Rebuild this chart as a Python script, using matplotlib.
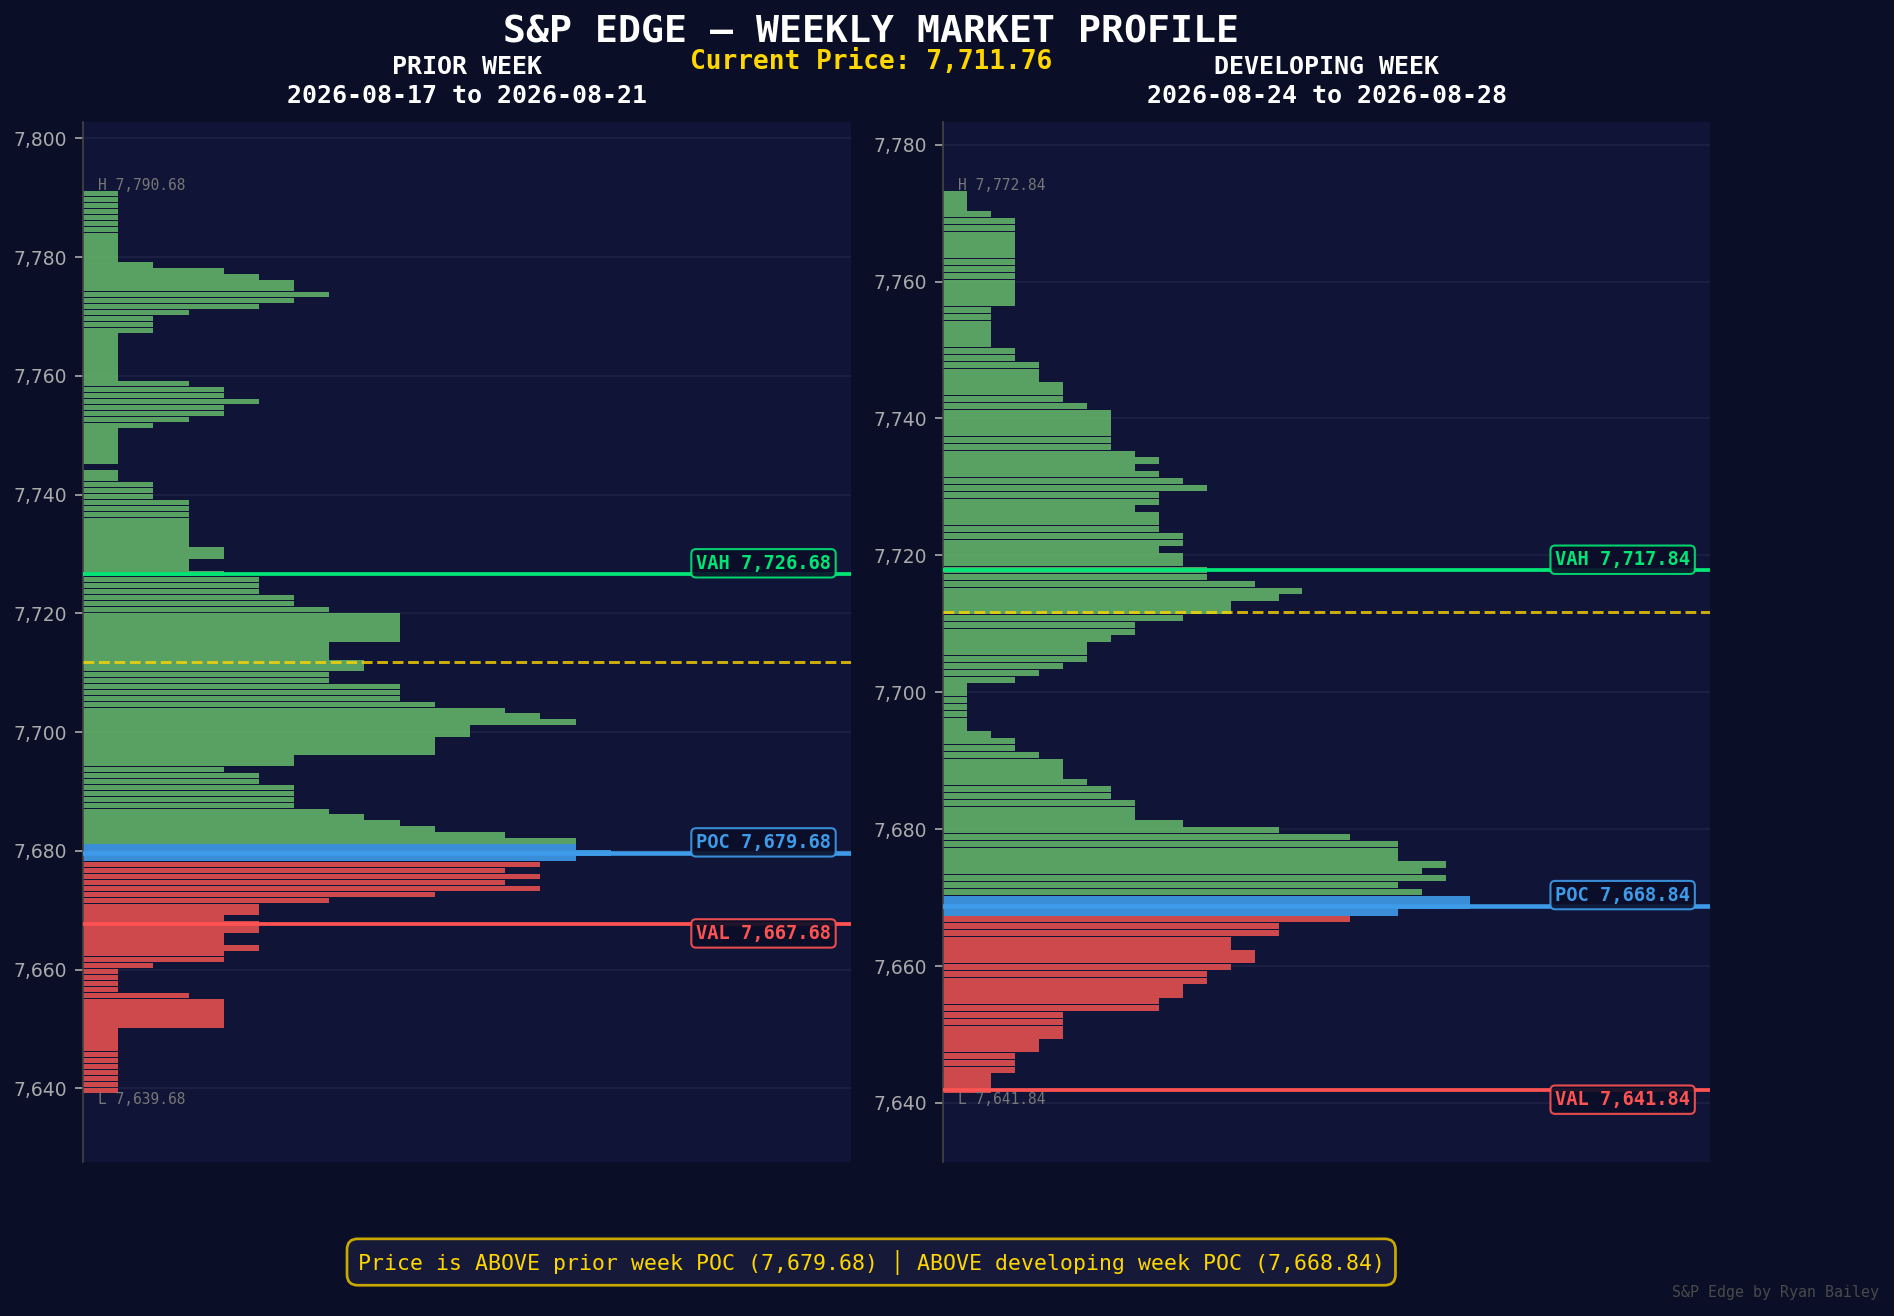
import matplotlib.pyplot as plt
import numpy as np
from matplotlib.ticker import MultipleLocator, FuncFormatter
import matplotlib.transforms as mtransforms

# --- data ---
current_price = 7711.76

prior_dates = "2026-08-17 to 2026-08-21"
prior_high = 7790.68
prior_low = 7639.68
prior_poc = 7679.68
prior_vah = 7726.68
prior_val = 7667.68
# TPO counts per 1-pt level, from high down to low
prior_counts = [
    1, 1, 1, 1, 1, 1, 1, 1, 1, 1, 1, 1,
    2, 4, 5, 6, 6, 7, 6, 5, 3, 2, 2, 2,
    1, 1, 1, 1, 1, 1, 1, 1,
    3, 4, 4, 5, 4, 4, 3, 2,
    1, 1, 1, 1, 1, 1,
    0,
    1, 1, 2, 2, 2,
    3, 3, 3, 3, 3, 3, 3, 3,
    4, 4, 3, 3, 4, 5, 5, 5, 6, 6,
    7,
    9, 9, 9, 9, 9,
    7, 7, 7, 8, 8, 7, 7, 9, 9, 9,
    10, 12, 13, 14, 11, 11, 10, 10, 10, 6, 6,
    4, 5, 5, 6, 6, 6, 6,
    7, 8, 9, 10, 12, 14, 14, 15, 14,
    13, 12, 13, 12, 13, 10, 7, 5, 5,
    4, 5, 5, 4, 4, 5, 4, 4, 2,
    1, 1, 1, 1,
    3, 4, 4, 4, 4, 4,
    1, 1, 1, 1, 1, 1, 1, 1, 1, 1, 1,
]

dev_dates = "2026-08-24 to 2026-08-28"
dev_high = 7772.84
dev_low = 7641.84
dev_poc = 7668.84
dev_vah = 7717.84
dev_val = 7641.84
dev_counts = [
    1, 1, 1, 2, 3, 3, 3, 3, 3, 3,
    3, 3, 3, 3, 3, 3, 3, 2, 2, 2,
    2, 2, 2, 3, 3, 4, 4, 4, 5, 5,
    5, 6, 7, 7, 7, 7, 7, 7, 8, 9,
    8, 9, 10, 11, 9, 9, 8, 9, 9, 9,
    10, 10, 9, 10, 10, 11, 11, 13, 15, 14,
    12, 12, 10, 8, 8, 7, 6, 6, 6, 5,
    4, 3, 1, 1, 1, 1, 1, 1, 1, 2,
    3, 3, 4, 5, 5, 5, 6, 7, 7, 8,
    8, 8, 10, 14, 17, 19, 19, 19, 21, 20,
    21, 19, 20, 22, 22, 19, 17, 14, 14, 12,
    12, 13, 13, 12, 11, 11, 10, 10, 9, 9,
    5, 5, 5, 5, 4, 4, 3, 3, 3, 2,
    2, 2,
]

# --- style ---
BG = '#0a0e27'
AX_BG = '#101436'
GREEN = '#66bb6a'
RED = '#ef5350'
BLUE = '#42a5f5'
VAH_C = '#00e676'
POC_C = '#3d9be9'
VAL_C = '#ff5252'
GOLD = '#FFD700'
MONO = 'DejaVu Sans Mono'

fig = plt.figure(figsize=(1894 / 150, 1316 / 150), dpi=150, facecolor=BG)
ax1 = fig.add_axes([0.0438, 0.117, 0.4055, 0.7903])
ax2 = fig.add_axes([0.4979, 0.117, 0.4050, 0.7903])


def draw_profile(ax, counts, high, low, poc, vah, val, title):
    counts = np.array(counts)
    prices = high - np.arange(len(counts))
    colors = []
    for p in prices:
        if abs(p - poc) <= 1.01:
            colors.append(BLUE)
        elif p > poc:
            colors.append(GREEN)
        else:
            colors.append(RED)
    ax.barh(prices, counts, height=0.92, color=colors, alpha=0.85,
            edgecolor='none', zorder=2)

    rng = high - low
    ax.set_ylim(low - 0.08 * rng, high + 0.08 * rng)
    ax.set_xlim(0, counts.max() * 1.455)
    ax.set_facecolor(AX_BG)

    trans = mtransforms.blended_transform_factory(ax.transAxes, ax.transData)
    ax.axhline(vah, color=VAH_C, lw=1.8, zorder=4)
    ax.axhline(poc, color=POC_C, lw=2.2, zorder=4)
    ax.axhline(val, color=VAL_C, lw=1.8, zorder=4)
    ax.axhline(current_price, color=GOLD, lw=1.4, ls='--', alpha=0.8, zorder=5)

    for name, lvl, c, dy in [('VAH', vah, VAH_C, 5), ('POC', poc, POC_C, 5),
                             ('VAL', val, VAL_C, -4.5)]:
        ax.annotate(f'{name} {lvl:,.2f}', xy=(0.974, lvl), xycoords=trans,
                    xytext=(0, dy), textcoords='offset points',
                    ha='right', va='center', color=c, fontsize=9,
                    fontweight='bold', family=MONO, zorder=6,
                    bbox=dict(boxstyle='round,pad=0.25', facecolor=BG,
                              edgecolor=c, lw=1.0, alpha=0.9))

    ax.text(0.02, high + 0.6, f'H {high:,.2f}', transform=trans, ha='left',
            va='baseline', color='#777777', fontsize=7, family=MONO, zorder=6)
    ax.text(0.02, low - 0.3, f'L {low:,.2f}', transform=trans, ha='left',
            va='top', color='#777777', fontsize=7, family=MONO, zorder=6)

    ax.yaxis.set_major_locator(MultipleLocator(20))
    ax.yaxis.set_major_formatter(FuncFormatter(lambda v, _: f'{v:,.0f}'))
    ax.tick_params(axis='y', colors='#aaaaaa', labelsize=9, length=4)
    ax.tick_params(axis='x', bottom=False, labelbottom=False)
    ax.grid(axis='y', color='#1e2245', lw=0.8, zorder=0)
    for s in ['top', 'right', 'bottom']:
        ax.spines[s].set_visible(False)
    ax.spines['left'].set_color('#444444')

    ax.set_title(title, color='white', fontsize=12, fontweight='bold',
                 family=MONO, pad=9, linespacing=1.3)


draw_profile(ax1, prior_counts, prior_high, prior_low, prior_poc, prior_vah,
             prior_val, f'PRIOR WEEK\n{prior_dates}')
draw_profile(ax2, dev_counts, dev_high, dev_low, dev_poc, dev_vah,
             dev_val, f'DEVELOPING WEEK\n{dev_dates}')

fig.text(0.46, 0.975, 'S&P EDGE — WEEKLY MARKET PROFILE', ha='center',
         va='center', color='white', fontsize=18.3, fontweight='bold', family=MONO)
fig.text(0.46, 0.953, f'Current Price: {current_price:,.2f}', ha='center',
         va='center', color=GOLD, fontsize=12.6, fontweight='bold', family=MONO)

side1 = 'ABOVE' if current_price > prior_poc else 'BELOW'
side2 = 'ABOVE' if current_price > dev_poc else 'BELOW'
fig.text(0.46, 0.041,
         f'Price is {side1} prior week POC ({prior_poc:,.2f}) │ '
         f'{side2} developing week POC ({dev_poc:,.2f})',
         ha='center', va='center', color=GOLD, fontsize=10.3, family=MONO,
         bbox=dict(boxstyle='round,pad=0.5', facecolor='#161a38',
                   edgecolor='#c9a800', lw=1.3))
fig.text(0.992, 0.0175, 'S&P Edge by Ryan Bailey', ha='right', va='center',
         color='#4a4a4a', fontsize=7.2, family=MONO)

fig.savefig('out.png', dpi=150, facecolor=BG)
